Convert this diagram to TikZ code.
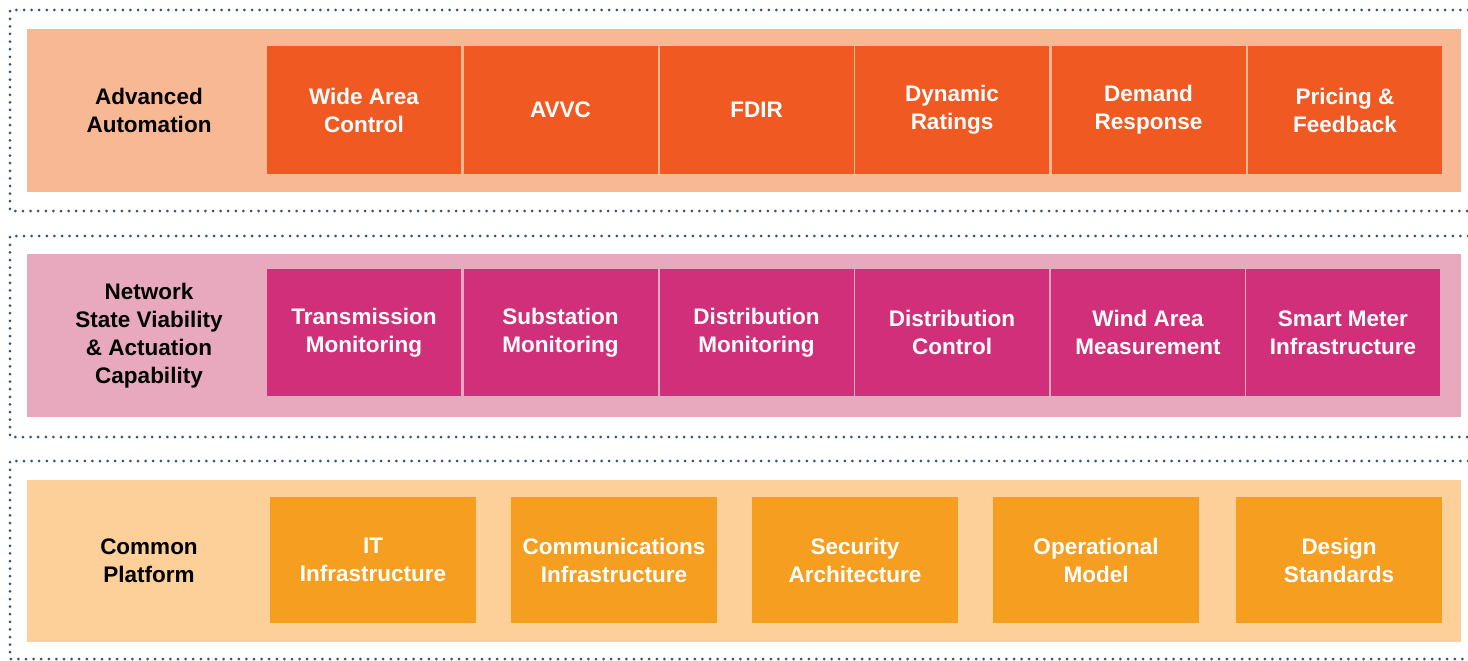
\documentclass[tikz,border=0pt]{standalone}
\usepackage{fontspec}
\setmainfont{Liberation Sans}
\definecolor{bandA}{HTML}{F9B894}
\definecolor{boxA}{HTML}{F05A22}
\definecolor{bandB}{HTML}{E8A9BF}
\definecolor{boxB}{HTML}{D22F7A}
\definecolor{bandC}{HTML}{FDD09A}
\definecolor{boxC}{HTML}{F69E1F}
\definecolor{dotc}{HTML}{35526E}
\tikzset{
  frameline/.style={draw=dotc, line width=3pt, line cap=round, dash pattern=on 0pt off 7.6pt},
  band/.style={anchor=north west, inner sep=0pt, outer sep=0pt},
  rowlabel/.style={align=center, font=\fontsize{22.5}{28}\selectfont\bfseries, text=black},
  tile/.style={inner sep=0pt, outer sep=0pt, minimum height=127pt, minimum width=194pt, align=center,
    font=\fontsize{22.5}{28}\selectfont\bfseries, text=white},
  wide/.style={tile, minimum width=206pt, minimum height=126pt}
}
\begin{document}
\begin{tikzpicture}[x=1pt,y=-1pt]
\useasboundingbox (0,0) rectangle (1468,661);
% frames (open on the right)
\coordinate (f1tr) at (1468,10); \coordinate (f1tl) at (10,10);
\coordinate (f1bl) at (10,211); \coordinate (f1br) at (1468,211);
\coordinate (f2tr) at (1468,236); \coordinate (f2tl) at (10,236);
\coordinate (f2bl) at (10,437); \coordinate (f2br) at (1468,437);
\coordinate (f3tr) at (1468,461); \coordinate (f3tl) at (10,461);
\coordinate (f3bl) at (10,659); \coordinate (f3br) at (1468,659);
\draw[frameline] (f1tr) -- (f1tl) -- (f1bl) -- (f1br);
\draw[frameline] (f2tr) -- (f2tl) -- (f2bl) -- (f2br);
\draw[frameline] (f3tr) -- (f3tl) -- (f3bl) -- (f3br);
% bands
\node[band, fill=bandA, minimum width=1434pt, minimum height=163pt] (bandA) at (27,29) {};
\node[band, fill=bandB, minimum width=1434pt, minimum height=163pt] (bandB) at (27,254) {};
\node[band, fill=bandC, minimum width=1434pt, minimum height=162pt] (bandC) at (27,480) {};
% row labels
\node[rowlabel] (labA) at (149,110) {Advanced\\Automation};
\node[rowlabel] (labB) at (149,336) {Network\\State Viability\\\& Actuation\\Capability};
\node[rowlabel] (labC) at (149,561) {Common\\Platform};
% row 1
\node[tile, fill=boxA] (a1) at (364,110) {Wide Area\\Control};
\node[tile, fill=boxA] (a2) at (560.5,110) {AVVC};
\node[tile, fill=boxA] (a3) at (756.5,110) {FDIR};
\node[tile, fill=boxA] (a4) at (952,110) {Dynamic\\Ratings};
\node[tile, fill=boxA] (a5) at (1148.5,110) {Demand\\Response};
\node[tile, fill=boxA] (a6) at (1345,110) {Pricing \&\\Feedback};
% row 2
\node[tile, fill=boxB] (b1) at (364,332.5) {Transmission\\Monitoring};
\node[tile, fill=boxB] (b2) at (560.5,332.5) {Substation\\Monitoring};
\node[tile, fill=boxB] (b3) at (756.5,332.5) {Distribution\\Monitoring};
\node[tile, fill=boxB] (b4) at (952,332.5) {Distribution\\Control};
\node[tile, fill=boxB] (b5) at (1148,332.5) {Wind Area\\Measurement};
\node[tile, fill=boxB] (b6) at (1343,332.5) {Smart Meter\\Infrastructure};
% row 3
\node[wide, fill=boxC] (c1) at (373,560) {IT\\Infrastructure};
\node[wide, fill=boxC] (c2) at (614,560) {Communications\\Infrastructure};
\node[wide, fill=boxC] (c3) at (855,560) {Security\\Architecture};
\node[wide, fill=boxC] (c4) at (1096,560) {Operational\\Model};
\node[wide, fill=boxC] (c5) at (1339,560) {Design\\Standards};
\end{tikzpicture}
\end{document}
